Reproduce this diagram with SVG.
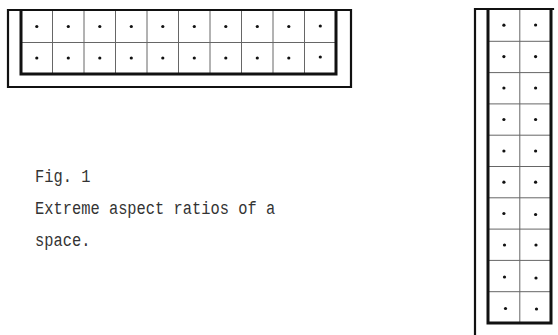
<svg xmlns="http://www.w3.org/2000/svg" width="558" height="335" viewBox="0 0 558 335">
<style>
.outer{fill:none;stroke:#111;stroke-width:2.2;stroke-linecap:square}
.inner{fill:none;stroke:#111;stroke-width:3;stroke-linejoin:miter}
.grid{stroke:#666;stroke-width:1;fill:none}
.dot{fill:#111}
.cap{font-family:"Liberation Mono","Courier New",monospace;font-size:15.4px;fill:#333}
</style>
<defs>
<circle id="d" r="1.6" class="dot"/>
</defs>
<rect width="558" height="335" fill="#fff"/>
<g id="wide-space">
  <path class="grid" d="M21 42.5H336 M52.5 10V74 M84 10V74 M115.5 10V74 M147 10V74 M178.5 10V74 M210 10V74 M241.5 10V74 M273 10V74 M304.5 10V74"/>
  <path class="outer" d="M8 87V10H351V87H8"/>
  <path class="inner" d="M21 10V74H336V10"/>
  <g>
    <use href="#d" x="36.8" y="26.5"/><use href="#d" x="68.3" y="26.5"/><use href="#d" x="99.8" y="26.5"/><use href="#d" x="131.3" y="26.5"/><use href="#d" x="162.8" y="26.5"/><use href="#d" x="194.3" y="26.5"/><use href="#d" x="225.8" y="26.5"/><use href="#d" x="257.3" y="26.5"/><use href="#d" x="288.8" y="26.5"/><use href="#d" x="320.3" y="26"/>
    <use href="#d" x="36.8" y="58"/><use href="#d" x="68.3" y="58"/><use href="#d" x="99.8" y="58"/><use href="#d" x="131.3" y="58"/><use href="#d" x="162.8" y="58"/><use href="#d" x="194.3" y="58"/><use href="#d" x="225.8" y="58"/><use href="#d" x="257.3" y="58"/><use href="#d" x="288.8" y="58"/><use href="#d" x="320.3" y="57"/>
  </g>
</g>
<g id="tall-space">
  <path class="grid" d="M519.8 9V323 M488 41.3H551 M488 72.6H551 M488 103.9H551 M488 135.2H551 M488 166.5H551 M488 197.8H551 M488 229.1H551 M488 260.4H551 M488 291.7H551"/>
  <path class="outer" d="M475 334V9H553"/>
  <path class="inner" d="M488 9V323H551V9"/>
  <g>
    <use href="#d" x="503.9" y="25.2"/><use href="#d" x="535.6" y="25"/>
    <use href="#d" x="503.9" y="56.6"/><use href="#d" x="535.6" y="56.6"/>
    <use href="#d" x="503.9" y="88"/><use href="#d" x="535.6" y="88"/>
    <use href="#d" x="503.9" y="119.5"/><use href="#d" x="535.6" y="119.5"/>
    <use href="#d" x="503.9" y="151"/><use href="#d" x="535.6" y="151"/>
    <use href="#d" x="503.9" y="182.2"/><use href="#d" x="535.6" y="182.2"/>
    <use href="#d" x="503.9" y="213.5"/><use href="#d" x="535.6" y="214.5"/>
    <use href="#d" x="504.5" y="245"/><use href="#d" x="536" y="245"/>
    <use href="#d" x="504.5" y="277"/><use href="#d" x="536" y="278"/>
    <use href="#d" x="505.5" y="308.5"/><use href="#d" x="536.5" y="309"/>
  </g>
</g>
<g id="caption">
  <text class="cap" transform="translate(35 182) scale(1 1.2)">Fig. 1</text>
  <text class="cap" transform="translate(35 214) scale(1 1.2)">Extreme aspect ratios of a</text>
  <text class="cap" transform="translate(35 246) scale(1 1.2)">space.</text>
</g>
</svg>
